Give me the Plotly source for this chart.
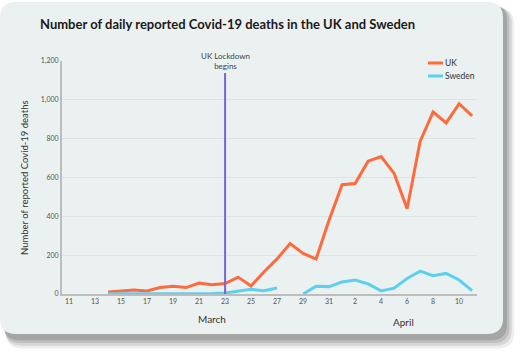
import plotly.graph_objects as go

# ---- data ----
dates = ["2020-03-14", "2020-03-15", "2020-03-16", "2020-03-17", "2020-03-18",
         "2020-03-19", "2020-03-20", "2020-03-21", "2020-03-22", "2020-03-23",
         "2020-03-24", "2020-03-25", "2020-03-26", "2020-03-27", "2020-03-28",
         "2020-03-29", "2020-03-30", "2020-03-31", "2020-04-01", "2020-04-02",
         "2020-04-03", "2020-04-04", "2020-04-05", "2020-04-06", "2020-04-07",
         "2020-04-08", "2020-04-09", "2020-04-10", "2020-04-11"]
uk = [10, 14, 20, 16, 33, 40, 33, 56, 48, 54, 87, 41, 115, 181, 260, 209, 180,
      381, 563, 569, 684, 708, 621, 439, 786, 938, 881, 980, 917]
sweden = [1, 1, 1, 2, 2, 3, 4, 3, 2, 5, 15, 24, 17, 31, None, 0, 40, 38, 62,
          72, 52, 16, 30, 80, 118, 94, 106, 72, 17]
lockdown_date = "2020-03-23"
month_labels = ["March", "April"]
title = "Number of daily reported Covid-19 deaths in the UK and Sweden"

UK_COL = "#FF6A3D"
SE_COL = "#5DD0F2"
BG = "#EAF1F0"

L, R, T, B = 62, 477, 61, 294
def px(x):
    return (x - L) / (R - L)
def py(y):
    return (B - y) / (B - T)

def rrect(x0, y0, x1, y1, r):
    pts = []
    # rounded rectangle path in paper coords
    s = (f"M{px(x0 + r)},{py(y0)} L{px(x1 - r)},{py(y0)} Q{px(x1)},{py(y0)} {px(x1)},{py(y0 + r)} "
         f"L{px(x1)},{py(y1 - r)} Q{px(x1)},{py(y1)} {px(x1 - r)},{py(y1)} "
         f"L{px(x0 + r)},{py(y1)} Q{px(x0)},{py(y1)} {px(x0)},{py(y1 - r)} "
         f"L{px(x0)},{py(y0 + r)} Q{px(x0)},{py(y0)} {px(x0 + r)},{py(y0)} Z")
    return s

fig = go.Figure()
fig.add_trace(go.Scatter(x=dates, y=uk, mode="lines", name="UK",
                         line=dict(color=UK_COL, width=3), showlegend=False))
fig.add_trace(go.Scatter(x=dates, y=sweden, mode="lines", name="Sweden",
                         line=dict(color=SE_COL, width=3), showlegend=False,
                         connectgaps=False))

shapes = []
# shadow layers
for dx, dy, op in [(14, 16, 0.10), (11, 13, 0.15), (8, 10, 0.2), (5, 7, 0.25)]:
    shapes.append(dict(type="path", xref="paper", yref="paper", layer="below",
                       path=rrect(2 + dx * 0.3, 2 + dy * 0.4, 503 + dx * 0.8, 334 + dy * 0.9, 16),
                       fillcolor=f"rgba(90,90,90,{op})", line=dict(width=0)))
shapes.append(dict(type="path", xref="paper", yref="paper", layer="below",
                   path=rrect(0, 2, 503, 334, 16), fillcolor=BG, line=dict(width=0)))
# lockdown line
shapes.append(dict(type="line", xref="x", yref="paper", x0=lockdown_date, x1=lockdown_date,
                   y0=0, y1=py(73), line=dict(color="#7467D8", width=2)))
# legend swatches
shapes.append(dict(type="line", xref="paper", yref="paper", x0=px(428), x1=px(443),
                   y0=py(63), y1=py(63), line=dict(color=UK_COL, width=3)))
shapes.append(dict(type="line", xref="paper", yref="paper", x0=px(428), x1=px(443),
                   y0=py(76), y1=py(76), line=dict(color=SE_COL, width=3)))

FONT = "Lato"
annotations = [
    dict(text=f"<b>{title}</b>", xref="paper", yref="paper", x=px(38), y=py(24),
         xanchor="left", yanchor="middle", showarrow=False,
         font=dict(family=FONT, size=13, color="#1a1a1a")),
    dict(text="UK Lockdown<br>begins", xref="x", yref="paper", x=lockdown_date, y=py(61),
         xanchor="center", yanchor="middle", showarrow=False,
         font=dict(family=FONT, size=8, color="#444")),
    dict(text="Number of reported Covid-19 deaths", xref="paper", yref="paper",
         x=px(24), y=py(178), textangle=-90, xanchor="center", yanchor="middle",
         showarrow=False, font=dict(family=FONT, size=9.5, color="#333")),
    dict(text=month_labels[0], xref="paper", yref="paper", x=px(212), y=py(319),
         xanchor="center", yanchor="middle", showarrow=False,
         font=dict(family=FONT, size=10, color="#333")),
    dict(text=month_labels[1], xref="paper", yref="paper", x=px(403), y=py(322),
         xanchor="center", yanchor="middle", showarrow=False,
         font=dict(family=FONT, size=10, color="#333")),
    dict(text="UK", xref="paper", yref="paper", x=px(443), y=py(63),
         xanchor="left", yanchor="middle", showarrow=False,
         font=dict(family=FONT, size=8.5, color="#333")),
    dict(text="Sweden", xref="paper", yref="paper", x=px(443), y=py(76),
         xanchor="left", yanchor="middle", showarrow=False,
         font=dict(family=FONT, size=8.5, color="#333")),
]

fig.update_layout(
    width=520, height=352,
    margin=dict(l=L, r=520 - R, t=T, b=352 - B),
    paper_bgcolor="white", plot_bgcolor="rgba(0,0,0,0)",
    shapes=shapes, annotations=annotations, showlegend=False,
    font=dict(family=FONT),
)
fig.update_xaxes(range=["2020-03-10 11:00", "2020-04-11 09:00"], tick0="2020-03-11",
                 dtick=2 * 86400000, tickformat="%-d", showgrid=False,
                 showline=True, linecolor="#BDBDBD", linewidth=2,
                 tickfont=dict(size=7, color="#555"), ticks="", zeroline=False)
fig.update_yaxes(range=[0, 1200], dtick=200, tickformat=",", showgrid=True,
                 gridcolor="#DCE4E3", gridwidth=1, showline=True, linecolor="#BDBDBD",
                 linewidth=2, tickfont=dict(size=7, color="#555"), zeroline=False, ticks="")

fig.write_html("out.html")
